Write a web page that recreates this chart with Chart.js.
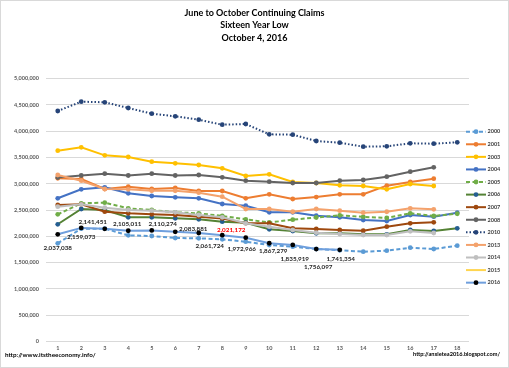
<!DOCTYPE html>
<html>
<head>
<meta charset="utf-8">
<script src="https://cdn.jsdelivr.net/npm/chart.js@4.4.1/dist/chart.umd.min.js"></script>
<style>
  html, body { margin: 0; padding: 0; background: #fff; }
  #c { display: block; }
</style>
</head>
<body>
<canvas id="c" width="509" height="368"></canvas>
<script>
    const weeks = ["1","2","3","4","5","6","7","8","9","10","11","12","13","14","15","16","17","18"];
    const titleLines = ["June to October Continuing Claims", "Sixteen Year Low", "October 4, 2016"];
    const footLeft = "http://www.itstheeconomy.info/";
    const footRight = "http://anxietea2016.blogspot.com/";

    // continuing claims per week
    const y2000 = [1866000,2145000,2145000,2018000,2005000,1967000,1961000,1942000,1896000,1834000,1801000,1757000,1733000,1706000,1725000,1782000,1757000,1820000];
    const y2001 = [3104000,3090000,2900000,2944000,2900000,2919000,2862000,2862000,2723000,2799000,2709000,2747000,2799000,2799000,2963000,3033000,3096000];
    const y2003 = [3629000,3694000,3541000,3509000,3420000,3389000,3357000,3294000,3147000,3180000,3033000,3014000,2970000,2957000,2894000,2995000,2957000];
    const y2004 = [2723000,2894000,2932000,2818000,2767000,2742000,2723000,2614000,2582000,2456000,2456000,2391000,2361000,2310000,2290000,2405000,2372000,2449000];
    const y2005 = [2418000,2628000,2639000,2532000,2500000,2456000,2437000,2386000,2323000,2262000,2315000,2357000,2399000,2370000,2348000,2437000,2386000,2429000];
    const y2006 = [2228000,2519000,2500000,2361000,2361000,2342000,2323000,2277000,2258000,2132000,2100000,2056000,2056000,2037000,2037000,2119000,2100000,2151000];
    const y2007 = [2595000,2608000,2468000,2437000,2418000,2405000,2372000,2340000,2250000,2247000,2151000,2138000,2119000,2106000,2182000,2247000,2266000];
    const y2008 = [3119000,3157000,3191000,3157000,3191000,3157000,3166000,3123000,3058000,3039000,3014000,3014000,3058000,3071000,3134000,3229000,3313000];
    const y2010 = [4385000,4562000,4551000,4442000,4334000,4284000,4219000,4124000,4137000,3941000,3934000,3814000,3781000,3705000,3713000,3770000,3762000,3789000];
    const y2013 = [3166000,3058000,2900000,2894000,2867000,2867000,2829000,2753000,2519000,2519000,2467000,2519000,2487000,2449000,2467000,2532000,2513000];
    const y2014 = [2563000,2608000,2544000,2500000,2487000,2456000,2405000,2361000,2247000,2182000,2119000,2068000,2043000,2024000,2024000,2094000,2062000];
    const y2015 = [];
    const y2016 = [2037038,2159073,2141451,2105011,2110274,2083881,2061724,2021172,1972966,1867279,1835919,1756097,1741354];

    const years = ["2000","2001","2003","2004","2005","2006","2007","2008","2010","2013","2014","2015","2016"];
    const series = [y2000,y2001,y2003,y2004,y2005,y2006,y2007,y2008,y2010,y2013,y2014,y2015,y2016];
    const yTicks = [0,500000,1000000,1500000,2000000,2500000,3000000,3500000,4000000,4500000,5000000];
    const lowWeek = 7; // the week printed in red

    const FONT = "Lato, 'Open Sans', sans-serif";

    // line look per year
    const looks = [
      { line: "#5B9BD5", dot: "#5B9BD5", dash: [4, 2.5] },
      { line: "#ED7D31", dot: "#ED7D31" },
      { line: "#FFC000", dot: "#FFC000" },
      { line: "#4472C4", dot: "#4472C4" },
      { line: "#70AD47", dot: "#70AD47", dash: [4, 2.5] },
      { line: "#548235", dot: "#255E91" },
      { line: "#9E480E", dot: "#9E480E" },
      { line: "#636363", dot: "#636363" },
      { line: "#264478", dot: "#264478", dash: [1.5, 2] },
      { line: "#F4A26C", dot: "#F4A26C" },
      { line: "#BFBFBF", dot: "#BFBFBF" },
      { line: "#FFD54F", dot: "#FFD54F", r: 0 },
      { line: "#6F9FDD", dot: "#000000" }
    ];

    const datasets = years.map((yr, i) => ({
      label: yr,
      data: series[i],
      borderColor: looks[i].line,
      backgroundColor: looks[i].dot,
      pointBackgroundColor: looks[i].dot,
      pointBorderColor: looks[i].dot,
      pointBorderWidth: 0,
      pointRadius: looks[i].r === 0 ? 0 : 2.4,
      borderWidth: 2,
      borderDash: looks[i].dash || [],
      tension: 0,
      fill: false,
      order: years.length - i
    }));

    const fmt = v => v.toLocaleString("en-US");

    // frame, title, footer text and the hand-made legend
    const decor = {
      id: "decor",
      beforeDraw(chart) {
        const c = chart.ctx;
        c.save();
        c.fillStyle = "#fff";
        c.fillRect(0, 0, chart.width, chart.height);
        c.strokeStyle = "#D9D9D9";
        c.lineWidth = 1;
        c.strokeRect(0.5, 0.5, chart.width - 1, chart.height - 1);
        c.restore();
      },
      afterDraw(chart) {
        const c = chart.ctx;
        c.save();
        c.fillStyle = "#000";
        c.textAlign = "center";
        c.textBaseline = "middle";
        c.font = "bold 9px " + FONT;
        titleLines.forEach((t, k) => c.fillText(t, chart.width / 2, 13 + k * 12.3));

        c.font = "bold 6.3px " + FONT;
        c.textAlign = "left";
        c.fillText(footLeft, 5, 355);
        c.font = "bold 5.6px " + FONT;
        c.textAlign = "right";
        c.fillText(footRight, 500, 354);

        // legend
        c.font = "bold 5.5px " + FONT;
        c.textAlign = "left";
        years.forEach((yr, i) => {
          const y = 131.7 + i * 12.58;
          c.strokeStyle = looks[i].line;
          c.lineWidth = 2;
          c.setLineDash(looks[i].dash || []);
          c.beginPath();
          c.moveTo(466, y);
          c.lineTo(486, y);
          c.stroke();
          c.setLineDash([]);
          if (looks[i].r !== 0) {
            c.fillStyle = looks[i].dot;
            c.beginPath();
            c.arc(476, y, 2.4, 0, Math.PI * 2);
            c.fill();
          }
          c.fillStyle = "#404040";
          c.fillText(yr, 487.5, y);
        });
        c.restore();
      }
    };

    // value labels on the 2016 line
    const nudge = [[0,14],[0,9],[-12,-7],[-1,-7],[11,-7],[18,-3],[11,13],[9,-5],[-4,11],[4,8],[2,14],[2,18],[1,9.5]];
    const pointLabels = {
      id: "pointLabels",
      afterDatasetsDraw(chart) {
        const idx = years.indexOf("2016");
        const meta = chart.getDatasetMeta(idx);
        const c = chart.ctx;
        c.save();
        c.font = "bold 6.3px " + FONT;
        c.textAlign = "center";
        c.textBaseline = "middle";
        meta.data.forEach((pt, k) => {
          const off = nudge[k] || [0, -8];
          c.fillStyle = k === lowWeek ? "#FF0000" : "#262626";
          c.fillText(fmt(y2016[k]), pt.x + off[0], pt.y + off[1]);
        });
        c.restore();
      }
    };

    new Chart(document.getElementById("c"), {
      type: "line",
      data: { labels: weeks, datasets: datasets },
      options: {
        responsive: false,
        animation: false,
        devicePixelRatio: 1,
        layout: { padding: { left: 4, right: 40, top: 78.7, bottom: 12.7 } },
        plugins: { legend: { display: false }, title: { display: false }, tooltip: { enabled: false } },
        scales: {
          x: {
            offset: true,
            grid: { display: false, drawTicks: false },
            border: { display: false },
            ticks: { color: "#595959", font: { family: FONT, size: 5.5, weight: "bold" }, padding: 4, maxRotation: 0, autoSkip: false },
            afterFit: s => { s.height = 14; }
          },
          y: {
            min: 0,
            max: 5000000,
            afterBuildTicks: s => { s.ticks = yTicks.map(v => ({ value: v })); },
            grid: { color: "#D9D9D9", lineWidth: 1, drawTicks: false },
            border: { display: false },
            ticks: { color: "#595959", font: { family: FONT, size: 5.5, weight: "bold" }, padding: 7, callback: v => fmt(v) },
            afterFit: s => { s.width = 42; }
          }
        }
      },
      plugins: [decor, pointLabels]
    });
</script>
</body>
</html>
